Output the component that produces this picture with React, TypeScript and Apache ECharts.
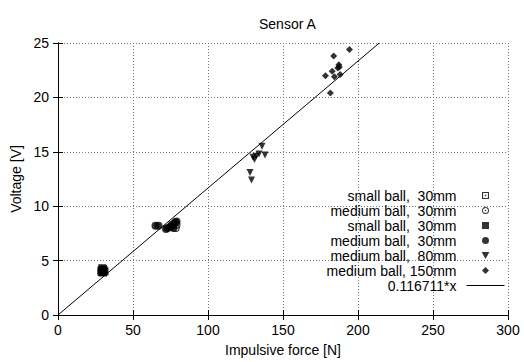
import React, { useEffect, useRef } from "react";
import * as echarts from "echarts";

// ---- data ----
const seriesLabels = [
  "small ball,  30mm",
  "medium ball,  30mm",
  "small ball,  30mm",
  "medium ball,  30mm",
  "medium ball,  80mm",
  "medium ball, 150mm",
  "0.116711*x",
];

const smallOpenX = [30, 29.5];
const smallOpenY = [4.1, 4.0];

const mediumOpenX = [77, 78.5, 79];
const mediumOpenY = [8.2, 8.0, 8.3];

const smallFilledX = [29, 30, 31, 30, 29.5, 30.5, 29];
const smallFilledY = [4.1, 4.2, 4.0, 3.9, 4.3, 4.1, 3.95];

const mediumFilledX = [65, 67, 72, 73, 75, 76, 78, 79, 77];
const mediumFilledY = [8.2, 8.2, 7.9, 8.0, 8.1, 8.3, 8.5, 8.6, 8.0];

const m80X = [136, 134, 138, 130, 131, 128, 129, 132];
const m80Y = [15.5, 14.8, 14.7, 14.5, 14.3, 13.1, 12.4, 14.6];

const m150X = [194.3, 183.8, 187.2, 187.6, 186.5, 182.8, 178.3, 188.1, 184.3, 181.6];
const m150Y = [24.4, 23.8, 23.0, 22.8, 22.7, 22.4, 22.0, 22.1, 21.9, 20.4];

const fitSlope = 0.116711;
const fitX = [0, 25 / fitSlope];

const xTicks = { min: 0, max: 300, interval: 50 };
const yTicks = { min: 0, max: 25, interval: 5 };

const zip = (xs: number[], ys: number[]) => xs.map((x, i) => [x, ys[i]]);

const boxDot =
  "path://M0,0 H10 V10 H0 Z M1.6,1.6 V8.4 H8.4 V1.6 Z M4,4 H6 V6 H4 Z";
const circleDot =
  "path://M5,0 A5,5 0 1,1 5,10 A5,5 0 1,1 5,0 Z M5,1.4 A3.6,3.6 0 1,0 5,8.6 A3.6,3.6 0 1,0 5,1.4 Z M5,4 A1,1 0 1,1 5,6 A1,1 0 1,1 5,4 Z";
const boxFill = "path://M0,0 H10 V10 H0 Z";
const circleFill = "path://M5,0 A5,5 0 1,1 5,10 A5,5 0 1,1 5,0 Z";
const triDown = "path://M0,0 H10 L5,9 Z";
const diamondFill = "path://M5,0 L10,5 L5,10 L0,5 Z";

const FONT = "'Liberation Sans', Arial, Helvetica, sans-serif";

export default function App() {
  const ref = useRef<HTMLDivElement>(null);
  useEffect(() => {
    if (!ref.current) return;
    const chart = echarts.init(ref.current, undefined, { renderer: "svg" });
    const ids = ["s0", "s1", "s2", "s3", "s4", "s5", "s6"];
    const icons = [boxDot, circleDot, boxFill, circleFill, triDown, diamondFill];
    const labelMap: Record<string, string> = {};
    ids.forEach((id, i) => (labelMap[id] = seriesLabels[i]));
    const grid = { left: 58, right: 16, top: 43, bottom: 45 };
    const tickStyle = { color: "#000", width: 1 };
    chart.setOption({
      animation: false,
      backgroundColor: "#fff",
      textStyle: { fontFamily: FONT, color: "#000" },
      title: {
        text: "Sensor A",
        left: 254,
        top: 12,
        textStyle: { fontFamily: FONT, fontSize: 14, fontWeight: "normal", color: "#000" },
      },
      grid,
      legend: {
        orient: "vertical",
        right: 19,
        top: 188,
        padding: 0,
        align: "right",
        itemWidth: 38,
        itemHeight: 7,
        itemGap: 0,
        selectedMode: false,
        lineStyle: { width: 1, color: "#000" },
        formatter: (n: string) => labelMap[n] || n,
        textStyle: { fontFamily: FONT, fontSize: 14, color: "#000", lineHeight: 15, padding: [0, 5, 0, 0] },
        data: ids.map((id, i) =>
          i < icons.length
            ? { name: id, icon: icons[i] }
            : { name: id, itemStyle: { opacity: 0 } }
        ),
      },
      xAxis: [
        {
          type: "value",
          ...xTicks,
          name: "Impulsive force [N]",
          nameLocation: "middle",
          nameGap: 28,
          nameTextStyle: { fontFamily: FONT, fontSize: 14, color: "#000" },
          axisLine: { lineStyle: { color: "#000", width: 1 } },
          axisTick: { inside: true, length: 5, lineStyle: tickStyle },
          axisLabel: { fontFamily: FONT, fontSize: 14, color: "#000", margin: 8 },
          splitLine: { show: true, lineStyle: { color: "#777", type: [1, 2], width: 1 } },
        },
        {
          type: "value",
          ...xTicks,
          position: "top",
          axisLine: { show: true, lineStyle: { color: "#000", width: 1 } },
          axisTick: { show: true, inside: true, length: 5, lineStyle: tickStyle },
          axisLabel: { show: false },
          splitLine: { show: false },
        },
      ],
      yAxis: [
        {
          type: "value",
          ...yTicks,
          name: "Voltage [V]",
          nameLocation: "middle",
          nameGap: 33,
          nameTextStyle: { fontFamily: FONT, fontSize: 14, color: "#000" },
          axisLine: { show: true, lineStyle: { color: "#000", width: 1 } },
          axisTick: { show: true, inside: true, length: 5, lineStyle: tickStyle },
          axisLabel: { fontFamily: FONT, fontSize: 14, color: "#000", margin: 9 },
          splitLine: { show: true, lineStyle: { color: "#777", type: [1, 2], width: 1 } },
        },
        {
          type: "value",
          ...yTicks,
          position: "right",
          axisLine: { show: true, lineStyle: { color: "#000", width: 1 } },
          axisTick: { show: true, inside: true, length: 5, lineStyle: tickStyle },
          axisLabel: { show: false },
          splitLine: { show: false },
        },
      ],
      series: [
        {
          id: "s0",
          name: "s0",
          type: "scatter",
          data: zip(smallOpenX, smallOpenY),
          symbol: boxDot,
          symbolSize: 8,
          itemStyle: { color: "#000" },
          z: 5,
        },
        {
          id: "s1",
          name: "s1",
          type: "scatter",
          data: zip(mediumOpenX, mediumOpenY),
          symbol: circleDot,
          symbolSize: 8,
          itemStyle: { color: "#000" },
          z: 5,
        },
        {
          id: "s2",
          name: "s2",
          type: "scatter",
          data: zip(smallFilledX, smallFilledY),
          symbol: boxFill,
          symbolSize: 8,
          itemStyle: { color: "#000" },
        },
        {
          id: "s3",
          name: "s3",
          type: "scatter",
          data: zip(mediumFilledX, mediumFilledY),
          symbol: circleFill,
          symbolSize: 8,
          itemStyle: { color: "#000" },
        },
        {
          id: "s4",
          name: "s4",
          type: "scatter",
          data: zip(m80X, m80Y),
          symbol: triDown,
          symbolSize: 7,
          itemStyle: { color: "#000" },
        },
        {
          id: "s5",
          name: "s5",
          type: "scatter",
          data: zip(m150X, m150Y),
          symbol: diamondFill,
          symbolSize: 7,
          itemStyle: { color: "#000" },
        },
        {
          id: "s6",
          name: "s6",
          type: "line",
          data: fitX.map((x) => [x, fitSlope * x]),
          symbol: "none",
          showSymbol: false,
          lineStyle: { color: "#000", width: 1 },
          itemStyle: { color: "#000" },
          z: 4,
        },
      ],
    });
    return () => chart.dispose();
  }, []);
  return <div ref={ref} style={{ width: 524, height: 362, position: "absolute", left: 0, top: 0 }} />;
}
